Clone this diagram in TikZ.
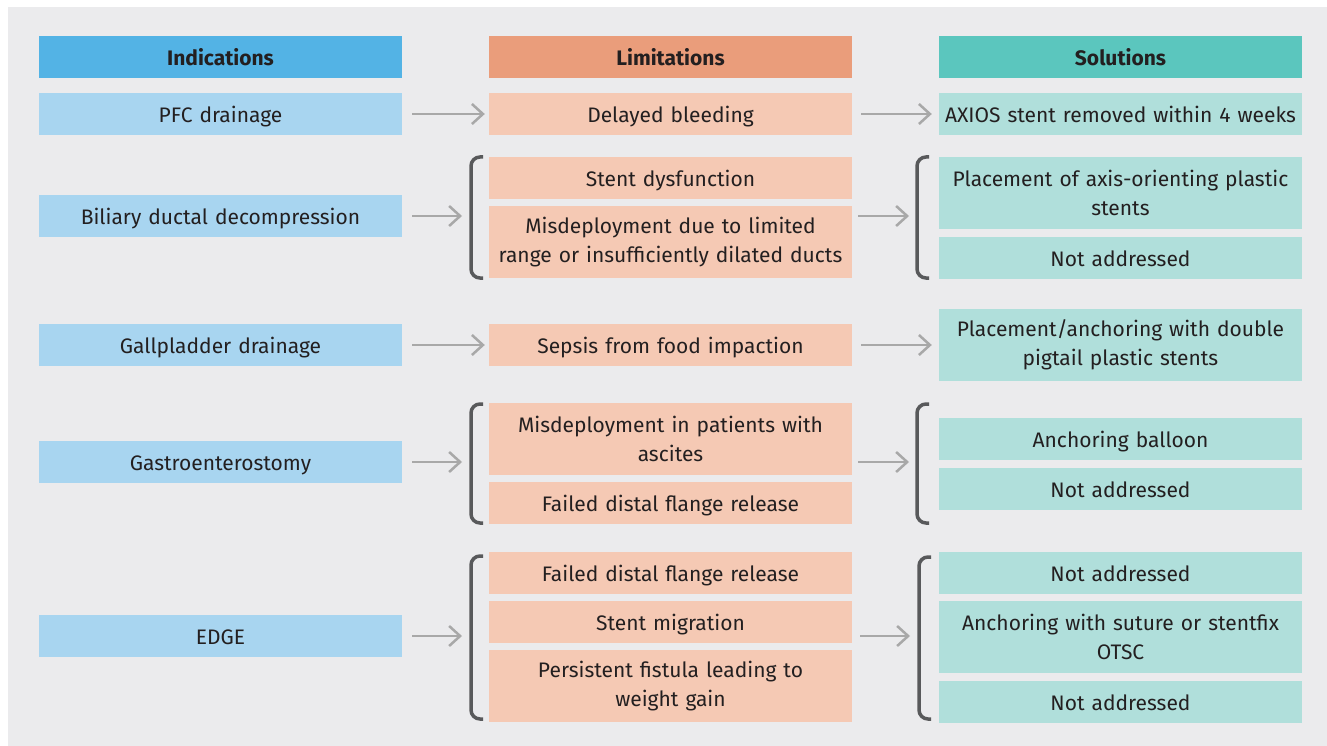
\documentclass[tikz,border=0pt]{standalone}
\usepackage{fontspec}
\setmainfont{Fira Sans}
\usepackage{tikz}
\usetikzlibrary{arrows.meta, calc}
\definecolor{bgcol}{HTML}{EBEBED}
\definecolor{indhead}{HTML}{53B3E5}
\definecolor{limhead}{HTML}{EA9D7B}
\definecolor{solhead}{HTML}{5BC6BE}
\definecolor{indcol}{HTML}{A8D5F0}
\definecolor{limcol}{HTML}{F5C9B4}
\definecolor{solcol}{HTML}{B0DFDB}
\definecolor{txtcol}{HTML}{231F20}
\definecolor{arrcol}{HTML}{A8A8A8}
\definecolor{bracecol}{HTML}{58595B}
\tikzstyle{cell} = [rectangle, minimum width=363pt, minimum height=42pt, inner sep=0pt, text width=358pt, text height=18pt, text depth=1pt, align=center, text=txtcol, font=\fontsize{21}{29}\selectfont]
\tikzstyle{tall} = [minimum height=72pt, text height=, text depth=]
\tikzstyle{head} = [cell, font=\fontsize{21}{29}\selectfont\bfseries]
\tikzstyle{ind} = [cell, fill=indcol]
\tikzstyle{lim} = [cell, fill=limcol]
\tikzstyle{sol} = [cell, fill=solcol]
\tikzstyle{arrow} = [draw=arrcol, line width=2.5pt, -{Straight Barb[length=11pt, width=20pt, line width=2.5pt]}]
\tikzstyle{bracket} = [draw=bracecol, line width=3.5pt, rounded corners=9pt]

\begin{document}
\begin{tikzpicture}[x=1pt, y=-1pt]
    \useasboundingbox (0,0) rectangle (1327,746);
    \fill[bgcol] (8,7) rectangle (1327,746);

    % headers
    \node (hind) [head, fill=indhead] at (220.5,57) {Indications};
    \node (hlim) [head, fill=limhead] at (670.5,57) {Limitations};
    \node (hsol) [head, fill=solhead] at (1120.5,57) {Solutions};

    % PFC drainage
    \node (ind1) [ind] at (220.5,114) {PFC drainage};
    \node (lim1) [lim] at (670.5,114) {Delayed bleeding};
    \node (sol1) [sol] at (1120.5,114) {AXIOS stent removed within 4 weeks};

    % biliary
    \node (ind2) [ind] at (220.5,216) {Biliary ductal decompression};
    \node (lim2a) [lim] at (670.5,178) {Stent dysfunction};
    \node (lim2b) [lim, tall] at (670.5,242) {Misdeployment due to limited\\range or insufficiently dilated ducts};
    \node (sol2a) [sol, tall] at (1120.5,193) {Placement of axis-orienting plastic\\stents};
    \node (sol2b) [sol] at (1120.5,258) {Not addressed};

    % gallbladder
    \node (ind3) [ind] at (220.5,345) {Gallpladder drainage};
    \node (lim3) [lim] at (670.5,345) {Sepsis from food impaction};
    \node (sol3) [sol, tall] at (1120.5,345) {Placement/anchoring with double\\pigtail plastic stents};

    % gastroenterostomy
    \node (ind4) [ind] at (220.5,462) {Gastroenterostomy};
    \node (lim4a) [lim, tall] at (670.5,439) {Misdeployment in patients with\\ascites};
    \node (lim4b) [lim] at (670.5,503) {Failed distal flange release};
    \node (sol4a) [sol] at (1120.5,439) {Anchoring balloon};
    \node (sol4b) [sol] at (1120.5,489) {Not addressed};

    % EDGE
    \node (ind5) [ind] at (220.5,636) {EDGE};
    \node (lim5a) [lim] at (670.5,573) {Failed distal flange release};
    \node (lim5b) [lim] at (670.5,622) {Stent migration};
    \node (lim5c) [lim, tall] at (670.5,686) {Persistent fistula leading to\\weight gain};
    \node (sol5a) [sol] at (1120.5,573) {Not addressed};
    \node (sol5b) [sol, tall] at (1120.5,637) {Anchoring with suture or stentfix\\OTSC};
    \node (sol5c) [sol] at (1120.5,702) {Not addressed};

    % brackets
    \draw [bracket] (483,157) -- (471,157) -- (471,278) -- (483,278);
    \draw [bracket] (929,157) -- (917,157) -- (917,278) -- (929,278);
    \draw [bracket] (483,404) -- (471,404) -- (471,523) -- (483,523);
    \draw [bracket] (929,404) -- (917,404) -- (917,523) -- (929,523);
    \draw [bracket] (483,556) -- (471,556) -- (471,719) -- (483,719);
    \draw [bracket] (931,557) -- (919,557) -- (919,719) -- (931,719);

    \coordinate (b2l) at (462,216);
    \coordinate (b2r) at (909,216);
    \coordinate (b4l) at (462,462);
    \coordinate (b4r) at (909,462);
    \coordinate (b5l) at (462,636);
    \coordinate (b5r) at (910,636);
    \coordinate (l2r) at (858,216);
    \coordinate (l4r) at (858,462);
    \coordinate (l5r) at (860,636);

    % arrows
    \draw [arrow, shorten <=10pt, shorten >=4pt] (ind1) -- (lim1);
    \draw [arrow, shorten <=9pt, shorten >=7pt] (lim1) -- (sol1);
    \draw [arrow, shorten <=10pt] (ind2) -- (b2l);
    \draw [arrow] (l2r) -- (b2r);
    \draw [arrow, shorten <=10pt, shorten >=4pt] (ind3) -- (lim3);
    \draw [arrow, shorten <=9pt, shorten >=7pt] (lim3) -- (sol3);
    \draw [arrow, shorten <=10pt] (ind4) -- (b4l);
    \draw [arrow] (l4r) -- (b4r);
    \draw [arrow, shorten <=10pt] (ind5) -- (b5l);
    \draw [arrow] (l5r) -- (b5r);
\end{tikzpicture}
\end{document}
